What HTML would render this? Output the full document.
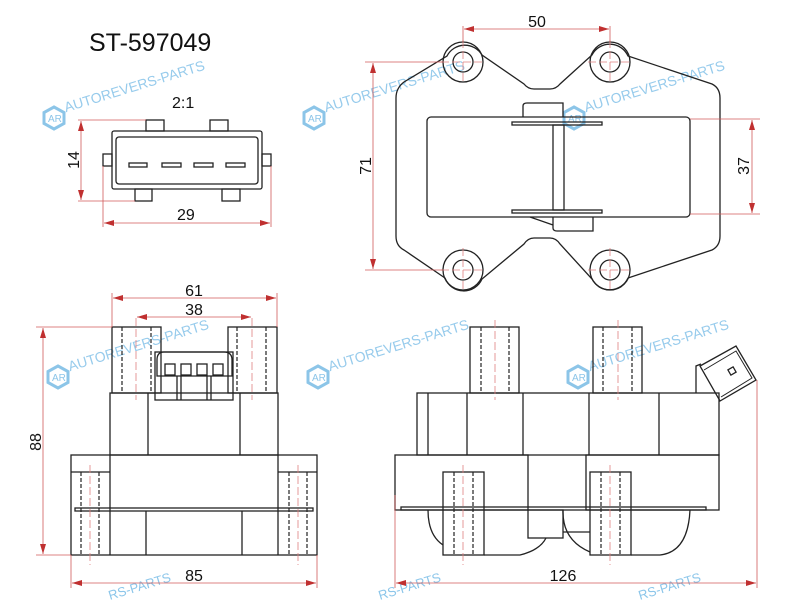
<!DOCTYPE html>
<html><head><meta charset="utf-8"><style>
html,body{margin:0;padding:0;background:#fff;}
svg{display:block;}
text{font-family:"Liberation Sans",sans-serif;}
</style></head><body>
<svg width="800" height="600" viewBox="0 0 800 600" xmlns="http://www.w3.org/2000/svg">
<defs>
<marker id="a" viewBox="0 0 10 6" refX="10" refY="3" markerWidth="10" markerHeight="6" orient="auto-start-reverse" markerUnits="userSpaceOnUse"><path d="M0,0 L10,3 L0,6 z" fill="#c03030"/></marker>
<g id="wm">
<path d="M0,-11 L10,-5.5 L10,5.5 L0,11 L-10,5.5 L-10,-5.5 Z" fill="none" stroke="#7fbfe6" stroke-width="3"/>
<text x="-6" y="4" font-size="10" fill="#7fbfe6">AR</text>
<text x="13" y="-2" font-size="14" fill="#8cc6ea" transform="rotate(-17)">AUTOREVERS-PARTS</text>
</g>
</defs>
<rect width="800" height="600" fill="#fff"/>

<text x="89" y="51" font-size="25" fill="#111">ST-597049</text>

<g opacity="0.9">
<use href="#wm" x="54" y="118"/>
<use href="#wm" x="314" y="118"/>
<use href="#wm" x="574" y="118"/>
<use href="#wm" x="58" y="377"/>
<use href="#wm" x="318" y="377"/>
<use href="#wm" x="578" y="377"/>
</g>
<text x="110" y="600" font-size="13" fill="#8cc6ea" transform="rotate(-17 110 600)">RS-PARTS</text>
<text x="380" y="600" font-size="13" fill="#8cc6ea" transform="rotate(-17 380 600)">RS-PARTS</text>
<text x="640" y="600" font-size="13" fill="#8cc6ea" transform="rotate(-17 640 600)">RS-PARTS</text>

<g fill="none" stroke="#222" stroke-width="1.3">
<rect x="112" y="131" width="150" height="58" rx="2"/>
<rect x="116" y="137" width="142" height="47" rx="3"/>
<rect x="146" y="120" width="18" height="11"/>
<rect x="210" y="120" width="18" height="11"/>
<rect x="135" y="189" width="17" height="12"/>
<rect x="222" y="189" width="18" height="12"/>
<rect x="103" y="154" width="9" height="12"/>
<rect x="262" y="154" width="9" height="12"/>
<rect x="129" y="163" width="18" height="4"/>
<rect x="162" y="163" width="19" height="4"/>
<rect x="194" y="163" width="19" height="4"/>
<rect x="226" y="163" width="19" height="4"/>

<!-- top view -->
<path d="M404,82 L447,56 A20,20 0 0 1 482,55 L524,84 Q528,89 534,89 L550,89 Q556,89 560,84 L592,55 A20,20 0 0 1 628,56 L712,84 Q720,88 720,98 L720,236 Q720,246 712,250 L628,278 A20,20 0 0 1 592,279 L560,244 Q556,238 550,238 L534,238 Q528,238 524,244 L482,279 A20,20 0 0 1 445,278 L404,250 Q396,246 396,236 L396,98 Q396,88 404,82 Z"/>
<circle cx="463" cy="62" r="20"/><circle cx="463" cy="62" r="10"/>
<circle cx="610" cy="62" r="20"/><circle cx="610" cy="62" r="10"/>
<circle cx="463" cy="270" r="20"/><circle cx="463" cy="270" r="10"/>
<circle cx="610" cy="270" r="20"/><circle cx="610" cy="270" r="10"/>
<rect x="427" y="117" width="263" height="100" rx="4"/>
<path d="M523,117 L523,106 Q523,103 527,103 L563,103 L563,117"/>
<path d="M553,217 L553,228 Q553,231 557,231 L593,231 L593,217 M530,217 L553,225"/>
<rect x="512" y="122" width="90" height="3"/>
<rect x="512" y="210" width="90" height="3"/>
<rect x="553" y="125" width="11" height="85"/>

<!-- front view -->
<rect x="112" y="327" width="49" height="66"/>
<rect x="228" y="327" width="49" height="66"/>
<rect x="110" y="393" width="168" height="62"/>
<line x1="148" y1="393" x2="148" y2="455"/>
<line x1="240" y1="393" x2="240" y2="455"/>
<rect x="155" y="352" width="78" height="48"/>
<path d="M157,376 L157,360 Q157,352 164,352 L224,352 Q232,352 232,360 L232,376 Z"/>
<rect x="165" y="364" width="10" height="11"/><rect x="181" y="364" width="10" height="11"/><rect x="197" y="364" width="10" height="11"/><rect x="213" y="364" width="10" height="11"/>
<line x1="177" y1="376" x2="177" y2="400"/><line x1="181" y1="376" x2="181" y2="400"/>
<line x1="207" y1="376" x2="207" y2="400"/><line x1="211" y1="376" x2="211" y2="400"/>
<rect x="71" y="455" width="246" height="100"/>
<line x1="71" y1="472" x2="110" y2="472"/>
<line x1="278" y1="472" x2="317" y2="472"/>
<line x1="110" y1="455" x2="110" y2="555"/>
<line x1="278" y1="455" x2="278" y2="555"/>
<rect x="75" y="508" width="238" height="3"/>
<line x1="146" y1="511" x2="146" y2="555"/>
<line x1="242" y1="511" x2="242" y2="555"/>

<!-- side view -->
<rect x="470" y="327" width="49" height="66"/>
<rect x="593" y="327" width="49" height="66"/>
<rect x="417" y="393" width="302" height="62"/>
<line x1="428" y1="393" x2="428" y2="455"/>
<line x1="467" y1="393" x2="467" y2="455"/>
<line x1="523" y1="393" x2="523" y2="455"/>
<line x1="589" y1="393" x2="589" y2="455"/>
<line x1="659" y1="393" x2="659" y2="455"/>
<rect x="395" y="455" width="133" height="55"/>
<rect x="586" y="455" width="133" height="55"/>
<rect x="401" y="507" width="305" height="3"/>
<rect x="528" y="510" width="35" height="28"/>
<line x1="563" y1="532" x2="590" y2="532"/>
<path d="M428,510 Q428,535 443,545"/>
<path d="M484,555 L520,555 Q540,550 546,538"/>
<path d="M563,510 Q562,540 590,552"/>
<path d="M631,555 L660,555 Q688,552 690,510"/>
<rect x="443" y="472" width="41" height="83"/>
<rect x="590" y="472" width="41" height="83"/>
<path d="M696,393 L696,366 L701,364"/>
<path d="M700,366 L736,346 L756,380 L720,401 Z"/>
<path d="M704,370 L736,351 L752,378 L721,397" stroke-width="1"/>
<rect x="729" y="368" width="6" height="6" transform="rotate(-30 732 371)"/>
</g>

<g stroke="#222" stroke-width="1.2" stroke-dasharray="4,2" fill="none">
<line x1="122" y1="327" x2="122" y2="393"/><line x1="151" y1="327" x2="151" y2="393"/>
<line x1="237" y1="327" x2="237" y2="393"/><line x1="266" y1="327" x2="266" y2="393"/>
<line x1="81" y1="472" x2="81" y2="555"/><line x1="99" y1="472" x2="99" y2="555"/>
<line x1="289" y1="472" x2="289" y2="555"/><line x1="307" y1="472" x2="307" y2="555"/>
<line x1="481" y1="327" x2="481" y2="393"/><line x1="509" y1="327" x2="509" y2="393"/>
<line x1="603" y1="327" x2="603" y2="393"/><line x1="632" y1="327" x2="632" y2="393"/>
<line x1="454" y1="472" x2="454" y2="555"/><line x1="473" y1="472" x2="473" y2="555"/>
<line x1="601" y1="472" x2="601" y2="555"/><line x1="620" y1="472" x2="620" y2="555"/>
</g>

<g stroke="#d05a5a" stroke-width="0.8" fill="none">
<g stroke-dasharray="8,3" stroke="#e08080">
<line x1="136" y1="318" x2="136" y2="400"/><line x1="252" y1="318" x2="252" y2="400"/>
<line x1="90" y1="465" x2="90" y2="565"/><line x1="298" y1="465" x2="298" y2="565"/>
<line x1="495" y1="320" x2="495" y2="400"/><line x1="618" y1="320" x2="618" y2="400"/>
<line x1="463" y1="465" x2="463" y2="565"/><line x1="610" y1="465" x2="610" y2="565"/>
<line x1="463" y1="40" x2="463" y2="84"/><line x1="441" y1="62" x2="485" y2="62"/>
<line x1="610" y1="40" x2="610" y2="84"/><line x1="588" y1="62" x2="632" y2="62"/>
<line x1="463" y1="248" x2="463" y2="292"/><line x1="441" y1="270" x2="485" y2="270"/>
<line x1="610" y1="248" x2="610" y2="292"/><line x1="588" y1="270" x2="632" y2="270"/>
</g>
<line x1="78" y1="120" x2="146" y2="120"/><line x1="78" y1="201" x2="135" y2="201"/>
<line x1="81" y1="121" x2="81" y2="200" marker-start="url(#a)" marker-end="url(#a)"/>
<line x1="103" y1="166" x2="103" y2="227"/><line x1="271" y1="166" x2="271" y2="227"/>
<line x1="104" y1="223" x2="270" y2="223" marker-start="url(#a)" marker-end="url(#a)"/>
<line x1="463" y1="26" x2="463" y2="42"/><line x1="610" y1="26" x2="610" y2="42"/>
<line x1="464" y1="29" x2="609" y2="29" marker-start="url(#a)" marker-end="url(#a)"/>
<line x1="365" y1="62" x2="443" y2="62"/><line x1="365" y1="270" x2="443" y2="270"/>
<line x1="373" y1="63" x2="373" y2="269" marker-start="url(#a)" marker-end="url(#a)"/>
<line x1="690" y1="119" x2="760" y2="119"/><line x1="690" y1="214" x2="760" y2="214"/>
<line x1="752" y1="120" x2="752" y2="213" marker-start="url(#a)" marker-end="url(#a)"/>
<line x1="112" y1="293" x2="112" y2="327"/><line x1="277" y1="293" x2="277" y2="327"/>
<line x1="113" y1="298" x2="276" y2="298" marker-start="url(#a)" marker-end="url(#a)"/>
<line x1="137" y1="317" x2="251" y2="317" marker-start="url(#a)" marker-end="url(#a)"/>
<line x1="36" y1="327" x2="112" y2="327"/><line x1="36" y1="555" x2="71" y2="555"/>
<line x1="43" y1="328" x2="43" y2="554" marker-start="url(#a)" marker-end="url(#a)"/>
<line x1="71" y1="555" x2="71" y2="588"/><line x1="317" y1="555" x2="317" y2="588"/>
<line x1="72" y1="583" x2="316" y2="583" marker-start="url(#a)" marker-end="url(#a)"/>
<line x1="395" y1="495" x2="395" y2="588"/><line x1="757" y1="380" x2="757" y2="588"/>
<line x1="396" y1="583" x2="756" y2="583" marker-start="url(#a)" marker-end="url(#a)"/>
</g>

<g fill="#111" font-size="16">
<text x="172" y="108">2:1</text>
<text x="177" y="220">29</text>
<text x="79" y="160" transform="rotate(-90 79 160)" text-anchor="middle">14</text>
<text x="537" y="27" text-anchor="middle">50</text>
<text x="371" y="166" transform="rotate(-90 371 166)" text-anchor="middle">71</text>
<text x="749" y="166" transform="rotate(-90 749 166)" text-anchor="middle">37</text>
<text x="194" y="296" text-anchor="middle">61</text>
<text x="194" y="315" text-anchor="middle">38</text>
<text x="41" y="442" transform="rotate(-90 41 442)" text-anchor="middle">88</text>
<text x="194" y="581" text-anchor="middle">85</text>
<text x="563" y="581" text-anchor="middle">126</text>
</g>
</svg>
</body></html>
